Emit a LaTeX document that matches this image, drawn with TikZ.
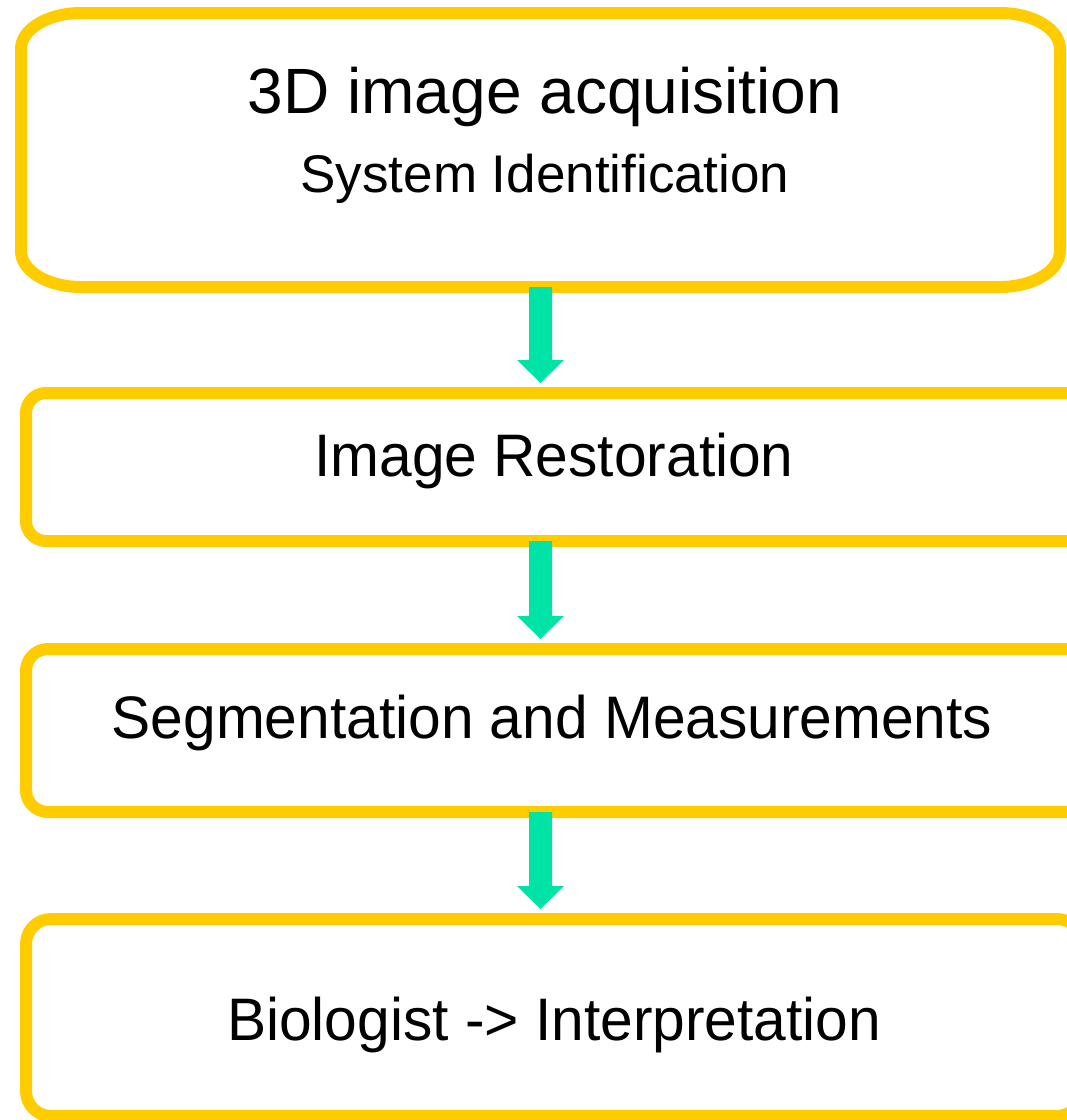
\documentclass[tikz,border=0pt]{standalone}
\usepackage{fontspec}
\setmainfont{Liberation Sans}
\newfontfamily\narrowsans[FakeStretch=0.978]{Liberation Sans}
\usetikzlibrary{calc}
\definecolor{boxyellow}{RGB}{255,204,0}
\definecolor{flowgreen}{RGB}{0,227,166}
% block arrow running straight down from one stage to the next,
% kept on the centre line of the first stage
\newcommand\flowarrow[2]{%
  \fill[flow] let \p0=(b1.south), \p1=(#1.south), \p2=(#2.north) in
    (\x0-11.5pt,\y1) -- (\x0-11.5pt,\y2+33pt) -- (\x0-23.5pt,\y2+33pt)
    -- (\x0,\y2+10pt) -- (\x0+23.5pt,\y2+33pt) -- (\x0+11.5pt,\y2+33pt)
    -- (\x0+11.5pt,\y1) -- cycle;}
\begin{document}
\begin{tikzpicture}[x=1pt,y=1pt,
  boxline/.style={draw=boxyellow, line width=12pt},
  stage/.style={boxline, rectangle, inner sep=0pt, outer sep=0pt},
  flow/.style={fill=flowgreen},
  caption/.style={anchor=base, inner sep=0pt, font=\narrowsans\fontsize{60}{72}\selectfont},
  bigcaption/.style={caption, font=\fontsize{64}{76}\selectfont},
  subcaption/.style={caption, font=\fontsize{53}{64}\selectfont}]
\useasboundingbox (0,0) rectangle (1067,-1120);

% first stage: frame with elliptical corners
\node[inner sep=0pt, outer sep=0pt, minimum width=1039pt, minimum height=274pt] (b1) at (540.5,-150) {};
\draw[boxline, line join=round]
  ([xshift=60pt]b1.north west) -- ([xshift=-60pt]b1.north east)
  arc[start angle=90, end angle=0, x radius=60pt, y radius=36pt]
  -- ([yshift=36pt]b1.south east)
  arc[start angle=0, end angle=-90, x radius=60pt, y radius=36pt]
  -- ([xshift=60pt]b1.south west)
  arc[start angle=270, end angle=180, x radius=60pt, y radius=36pt]
  -- ([yshift=-36pt]b1.north west)
  arc[start angle=180, end angle=90, x radius=60pt, y radius=36pt] -- cycle;

% remaining stages
\node[stage, rounded corners=20pt, minimum width=1064pt, minimum height=148pt] (b2) at (558,-467) {};
\node[stage, rounded corners=22pt, minimum width=1064pt, minimum height=163pt] (b3) at (558,-730.5) {};
\node[stage, rounded corners=25pt, minimum width=1056pt, minimum height=197pt] (b4) at (554,-1017.5) {};

% stage texts
\node[bigcaption] (t1a) at (545,-113) {3D image acquisition};
\node[subcaption] (t1b) at (545,-192) {System Identification};
\node[caption] (t2) at (554,-476) {Image Restoration};
\node[caption] (t3) at (552,-738) {Segmentation and Measurements};
\node[caption] (t4) at (554,-1040) {Biologist -> Interpretation};

% flow arrows
\flowarrow{b1}{b2}
\flowarrow{b2}{b3}
\flowarrow{b3}{b4}
\end{tikzpicture}
\end{document}
